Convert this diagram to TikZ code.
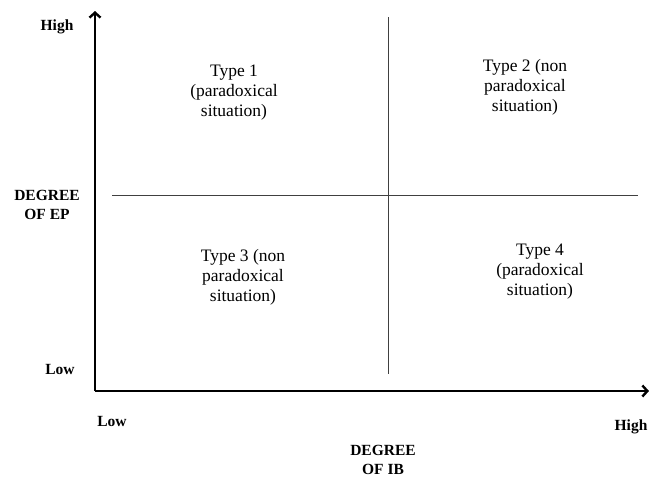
\documentclass[tikz,border=0pt]{standalone}
\usepackage{fontspec}
\setmainfont{Liberation Serif}
\usetikzlibrary{arrows.meta}
\begin{document}
\begin{tikzpicture}[x=1pt,y=-1pt,>={Straight Barb[length=5pt,width=11pt]},
    axislab/.style={font=\fontsize{15.5}{19}\selectfont\bfseries,align=center,inner sep=0pt},
    quadtext/.style={font=\fontsize{17.5}{20}\selectfont,align=center,inner sep=0pt},
    divider/.style={line width=1.1pt,black!75}]
    \useasboundingbox (0,0) rectangle (649,477);
    % axes
    \coordinate (O) at (95,391);
    \coordinate (ytop) at (95,11);
    \coordinate (xend) at (649,391);
    \draw[line width=2.4pt,->] (O)--(ytop);
    \draw[line width=2.4pt,->] (O)--(xend);
    % quadrant lines
    \coordinate (vtop) at (388.5,17);
    \coordinate (vbot) at (388.5,374);
    \coordinate (hleft) at (112,195.5);
    \coordinate (hright) at (638,195.5);
    \draw[divider] (vtop)--(vbot);
    \draw[divider] (hleft)--(hright);
    % axis labels
    \node[axislab] (yhigh) at (57,27) {High};
    \node[axislab] (ylow) at (60,369) {Low};
    \node[axislab] (ep) at (47,204.5) {DEGREE\\OF EP};
    \node[axislab] (xlow) at (112,421) {Low};
    \node[axislab] (xhigh) at (631,427) {High};
    \node[axislab] (ib) at (383,460) {DEGREE\\OF IB};
    % quadrants
    \node[quadtext] (t1) at (234,93) {Type 1\\(paradoxical\\situation)};
    \node[quadtext] (t2) at (525,87) {Type 2 (non\\paradoxical\\situation)};
    \node[quadtext] (t3) at (243,277) {Type  3 (non\\paradoxical\\situation)};
    \node[quadtext] (t4) at (540,272) {Type 4\\(paradoxical\\situation)};
\end{tikzpicture}
\end{document}
